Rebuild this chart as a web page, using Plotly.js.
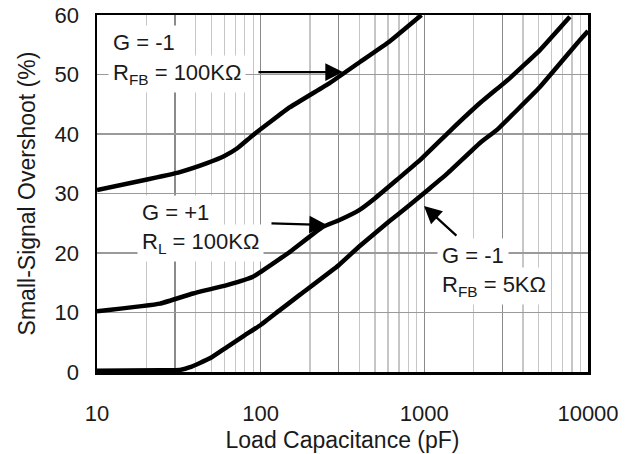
<!DOCTYPE html>
<html>
<head>
<meta charset="utf-8">
<script src="https://cdn.plot.ly/plotly-3.0.1.min.js"></script>
<style>html,body{margin:0;padding:0;background:#fff;}#chart{width:631px;height:454px;}</style>
</head>
<body>
<div id="chart"></div>
<script>
// Curve: G = -1, RFB = 100K
const capA = [10, 18.3, 32.1, 47.0, 60.0, 72.0, 89.7, 151, 265, 404, 616, 960];
const ovsA = [30.6, 32.1, 33.6, 35.1, 36.3, 37.6, 39.8, 44.5, 48.6, 52.1, 55.6, 60.0];
// Curve: G = +1, RL = 100K
const capB = [10, 24.3, 38.6, 62.2, 89.7, 151, 240, 301, 400, 500, 680, 940, 1433, 2187, 3334, 5083, 7748];
const ovsB = [10.2, 11.5, 13.2, 14.6, 16.0, 20.2, 24.4, 25.5, 27.2, 29.2, 32.3, 35.6, 40.5, 45.2, 49.4, 54.1, 59.7];
// Curve: G = -1, RFB = 5K
const capC = [10, 24.3, 32.1, 37.0, 49.0, 62.2, 80.2, 100, 131, 174, 301, 400, 608, 817, 1082, 1374, 2187, 2776, 5083, 8929, 10000];
const ovsC = [0.2, 0.3, 0.35, 0.8, 2.3, 4.2, 6.2, 7.9, 10.4, 13.0, 18.0, 21.1, 25.3, 28.1, 30.9, 33.3, 38.5, 40.7, 47.9, 55.8, 57.3];

const xMajorVals = [10, 30, 100, 300, 1000, 3000, 10000];
const xMajorText = ['10', '', '100', '', '1000', '', '10000'];
const xMinorVals = [20, 40, 50, 60, 70, 80, 90, 200, 400, 500, 600, 700, 800, 900, 2000, 4000, 5000, 6000, 7000, 8000, 9000];
const yTickVals = [0, 10, 20, 30, 40, 50, 60];

const lineStyle = {color: '#000', width: 4.5, shape: 'spline', smoothing: 0.3};
const traces = [
  {x: capA, y: ovsA, mode: 'lines', line: lineStyle, hoverinfo: 'skip'},
  {x: capB, y: ovsB, mode: 'lines', line: lineStyle, hoverinfo: 'skip'},
  {x: capC, y: ovsC, mode: 'lines', line: lineStyle, hoverinfo: 'skip'}
];

const FONT = 'Liberation Sans, Arial, sans-serif';
const txt = {family: FONT, size: 22, color: '#1a1a1a'};
function label(text, x, y) {
  return {xref: 'paper', yref: 'paper', x: x, y: y, xanchor: 'left', yanchor: 'middle',
          text: text, showarrow: false, font: txt, bgcolor: '#fff', borderpad: 4};
}
function arrow(tailX, tailY, tipX, tipY) {
  return {xref: 'x', yref: 'y', axref: 'x', ayref: 'y',
          x: Math.log10(tipX), y: tipY, ax: Math.log10(tailX), ay: tailY,
          text: '', showarrow: true, arrowhead: 2, arrowsize: 1.6, arrowwidth: 2.2,
          arrowcolor: '#000', standoff: 0, startstandoff: 0};
}

const layout = {
  width: 631, height: 454,
  margin: {l: 97, r: 43, t: 15, b: 82},
  paper_bgcolor: '#fff', plot_bgcolor: '#fff',
  showlegend: false,
  font: {family: FONT, color: '#1a1a1a'},
  xaxis: {
    type: 'log', range: [1, 4],
    tickmode: 'array', tickvals: xMajorVals, ticktext: xMajorText,
    tickfont: {family: FONT, size: 22, color: '#1a1a1a'},
    ticks: 'outside', ticklen: 20, tickcolor: 'rgba(0,0,0,0)',
    showgrid: true, gridcolor: '#8a8a8a', gridwidth: 1.3,
    minor: {tickmode: 'array', tickvals: xMinorVals, showgrid: true, gridcolor: '#c6c6c6', gridwidth: 1.3, ticks: ''},
    showline: true, mirror: true, linecolor: '#000', linewidth: 2.5,
    zeroline: false,
    title: {text: 'Load Capacitance (pF)', font: {family: FONT, size: 23, color: '#1a1a1a'}, standoff: 7}
  },
  yaxis: {
    range: [0, 60],
    tickmode: 'array', tickvals: yTickVals,
    tickfont: {family: FONT, size: 22, color: '#1a1a1a'},
    ticks: 'outside', ticklen: 11, tickcolor: 'rgba(0,0,0,0)',
    showgrid: true, gridcolor: '#9a9a9a', gridwidth: 1.3,
    showline: true, mirror: true, linecolor: '#000', linewidth: 2.5,
    zeroline: false,
    title: {text: 'Small-Signal Overshoot (%)', font: {family: FONT, size: 23, color: '#1a1a1a'}, standoff: 13}
  },
  annotations: [
    label('G = -1', 0.0224, 0.924),
    label('R<sub>FB</sub> = 100KΩ', 0.0224, 0.835),
    label('G = +1', 0.0815, 0.447),
    label('R<sub>L</sub> = 100KΩ', 0.0815, 0.362),
    label('G = -1', 0.692, 0.326),
    label('R<sub>FB</sub> = 5KΩ', 0.692, 0.240),
    arrow(94.9, 50.4, 318, 50.4),
    arrow(114, 25.0, 254, 24.7),
    arrow(1604, 22.7, 995, 27.9)
  ]
};

Plotly.newPlot('chart', traces, layout, {staticPlot: true, displayModeBar: false});
</script>
</body>
</html>
